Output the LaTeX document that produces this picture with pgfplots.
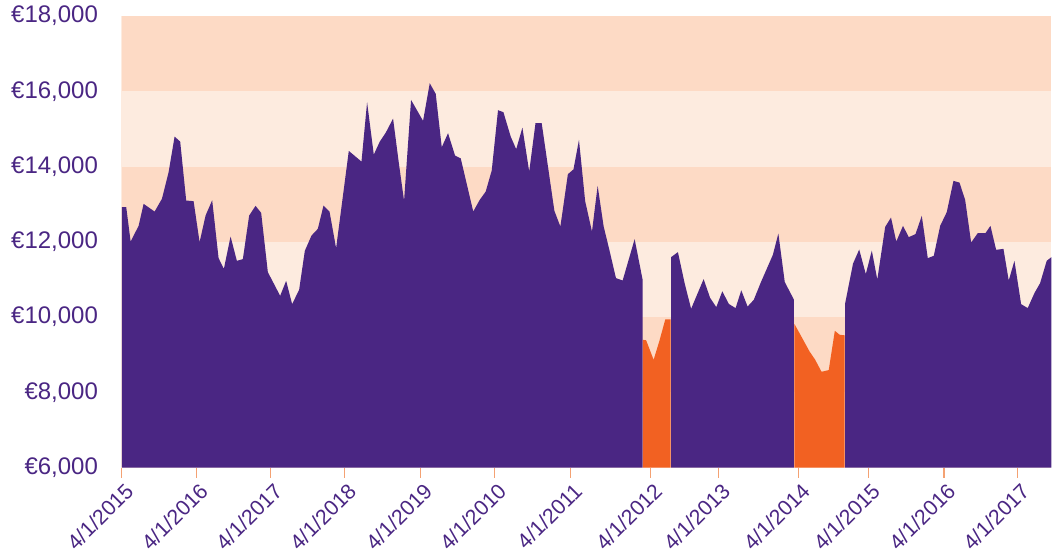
\documentclass[border=0pt]{standalone}
\usepackage{pgfplots}
\pgfplotsset{compat=1.18}
\usepackage{fontspec}
\setmainfont{Liberation Sans}
\definecolor{cpurple}{HTML}{4A2683}
\definecolor{corange}{HTML}{F26122}
\definecolor{bdark}{HTML}{FDDAC5}
\definecolor{blight}{HTML}{FDEBDF}
\definecolor{caxis}{HTML}{F4A273}
\definecolor{ctext}{HTML}{4A2683}
\begin{document}
\begin{tikzpicture}
\begin{axis}[
  scale only axis,
  width=697.5pt, height=339pt,
  xmin=0, xmax=930, ymin=6000, ymax=18000,
  scaled y ticks=false,
  axis x line*=bottom, axis y line*=left,
  x axis line style={draw=caxis, line width=0.9pt, -},
  y axis line style={draw=blight, line width=0.8pt, -},
  xtick={0,74.5,149,223,299,373,449,529,597,677,747,822.5,896.5},
  xticklabels={4/1/2015,4/1/2016,4/1/2017,4/1/2018,4/1/2019,4/1/2010,4/1/2011,4/1/2012,4/1/2013,4/1/2014,4/1/2015,4/1/2016,4/1/2017},
  x tick style={draw=caxis, line width=0.8pt},
  tick align=outside,
  x tick label style={rotate=45, anchor=north east, font=\fontsize{16}{18}\selectfont, text=ctext, inner sep=1pt, yshift=-2pt},
  major tick length=7.5pt,
  ytick={6000,8000,10000,12000,14000,16000,18000},
  yticklabels={{€6,000},{€8,000},{€10,000},{€12,000},{€14,000},{€16,000},{€18,000}},
  y tick style={draw=none},
  y tick label style={font=\fontsize{18}{20}\selectfont, text=ctext, xshift=-7pt},
  clip=true,
]
\fill[blight] (axis cs:0,6000) rectangle (axis cs:930,8000);
\fill[bdark] (axis cs:0,8000) rectangle (axis cs:930,10000);
\fill[blight] (axis cs:0,10000) rectangle (axis cs:930,12000);
\fill[bdark] (axis cs:0,12000) rectangle (axis cs:930,14000);
\fill[blight] (axis cs:0,14000) rectangle (axis cs:930,16000);
\fill[bdark] (axis cs:0,16000) rectangle (axis cs:930,18000);
% purple segment 1
\addplot[fill=cpurple, draw=none] coordinates {
(0,6000) (0,12922) (4.3,12922) (8.7,12008) (16.7,12425) (21.7,13009) (32.7,12805) (40,13142)
(46.7,13851) (52.7,14796) (58.3,14663) (64.3,13097) (71.7,13081) (77.7,11992) (83.7,12699)
(90.3,13107) (96.7,11568) (102,11283) (108.7,12141) (115,11496) (121,11541) (127.3,12699)
(133.7,12956) (139.3,12770) (146,11196) (158.3,10567) (164.3,10965) (170.3,10346) (177.3,10726)
(183,11761) (189.7,12168) (196,12345) (201.7,12964) (207.7,12805) (214.3,11833) (227,14416)
(239.7,14132) (245.3,15709) (252,14318) (258,14663) (264,14902) (271.3,15274) (277,14106)
(282.3,13089) (289.3,15770) (301.3,15213) (308,16214) (314,15930) (320,14515) (326.3,14886)
(333.3,14292) (339,14217) (351.5,12805) (358,13115) (364,13336) (370,13893) (376.3,15497)
(381.7,15444) (389,14796) (394.5,14461) (400.7,15035) (407.5,13867) (413.8,15152) (420,15152)
(432.7,12823) (438.7,12407) (446.2,13798) (451.8,13925) (457.3,14708) (463.5,13081) (470.3,12274)
(476,13487) (482,12407) (487.7,11788) (494.3,11037) (501,10973) (513,12072) (521,10991) (521,6000)
} \closedcycle;
% orange segment 1
\addplot[fill=corange, draw=none] coordinates {
(521.3,6000) (521.3,9398) (524.5,9385) (532,8867) (537.8,9372) (543.7,9943) (549,9943) (549,6000)
} \closedcycle;
% purple segment 2
\addplot[fill=cpurple, draw=none] coordinates {
(549.5,6000) (549.5,11594) (556.3,11727) (563,10904) (569.5,10221) (582,11010) (588.5,10514)
(594.7,10267) (600.7,10686) (607.3,10349) (614,10240) (619.7,10713) (626,10282) (632.2,10460)
(639.3,10925) (651.3,11655) (656.8,12221) (663.2,10933) (672.3,10468) (672.3,6000)
} \closedcycle;
% orange segment 2
\addplot[fill=corange, draw=none] coordinates {
(672.8,6000) (672.8,9823) (680.5,9452) (688,9088) (693.5,8875) (700,8549) (707.2,8594)
(713.3,9637) (718.2,9531) (723,9518) (723,6000)
} \closedcycle;
% purple segment 3
\addplot[fill=cpurple, draw=none] coordinates {
(723.5,6000) (723.5,10349) (731.5,11422) (737.7,11796) (744.3,11143) (750.3,11769) (755.8,10999)
(763.7,12399) (769.5,12645) (774.8,12008) (781.5,12425) (787.3,12125) (794,12205) (800.3,12691)
(806.3,11568) (812.3,11629) (818.7,12425) (825.3,12789) (832,13620) (838,13575) (843.7,13115)
(849.7,11982) (856.3,12231) (864,12231) (869,12425) (874.7,11788) (882,11814) (887.3,10973)
(893,11496) (899.7,10346) (906.3,10240) (913,10638) (918.7,10904) (925.3,11496) (930,11594) (930,6000)
} \closedcycle;
\end{axis}
\path (current axis.south west) ++(-91.5pt,0pt);
\path (current axis.north west) ++(0pt,12pt);
\end{tikzpicture}
\end{document}
